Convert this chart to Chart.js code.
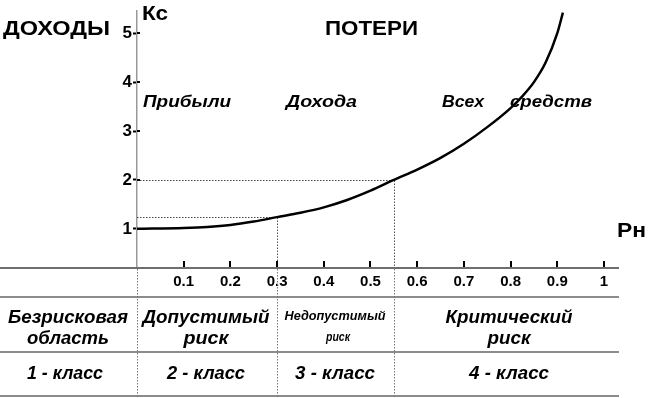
<!DOCTYPE html>
<html>
<head>
<meta charset="utf-8">
<script src="https://cdn.jsdelivr.net/npm/chart.js@4/dist/chart.umd.min.js"></script>
<style>
  html, body { margin: 0; padding: 0; background: #fff; }
  canvas { display: block; }
</style>
</head>
<body>
<canvas id="riskChart" width="648" height="398"></canvas>
<script>
// curve Kc(Pн)
const pnValues = [0, 0.1, 0.15, 0.2, 0.25, 0.3, 0.35, 0.4, 0.45, 0.5, 0.55, 0.6, 0.65, 0.7, 0.75, 0.8, 0.825, 0.85, 0.875, 0.9, 0.912];
const kcValues = [1.0, 1.02, 1.04, 1.08, 1.15, 1.24, 1.33, 1.44, 1.59, 1.78, 2.0, 2.21, 2.45, 2.74, 3.08, 3.47, 3.71, 4.0, 4.4, 5.0, 5.42];

const xTicks = [0.1, 0.2, 0.3, 0.4, 0.5, 0.6, 0.7, 0.8, 0.9, 1];
const xTickLabels = ['0.1', '0.2', '0.3', '0.4', '0.5', '0.6', '0.7', '0.8', '0.9', '1'];
const yTicks = [1, 2, 3, 4, 5];

// dotted guides: zone borders on Pн and matching Kc
const borderPn = [0.3, 0.55];
const borderKc = [1.24, 2];

const zoneTop = ['Прибыли', 'Дохода', 'Всех', 'средств'];
const riskNames = ['Безрисковая', 'Допустимый', 'Недопустимый', 'Критический'];
const riskNames2 = ['область', 'риск', 'риск', 'риск'];
const classNames = ['1 - класс', '2 - класс', '3 - класс', '4 - класс'];

const FONT = "'Liberation Sans', Arial, sans-serif";
Chart.defaults.font.family = FONT;
Chart.defaults.color = '#000';

// text squeezed/stretched to the width seen in the picture
function fitText(ctx, text, x, y, size, width, italic, align) {
  ctx.save();
  ctx.font = (italic ? 'italic ' : '') + 'bold ' + size + 'px ' + FONT;
  ctx.textAlign = align || 'left';
  ctx.textBaseline = 'alphabetic';
  const w = ctx.measureText(text).width;
  ctx.translate(x, y);
  ctx.scale(width / w, 1);
  ctx.fillStyle = '#000';
  ctx.fillText(text, 0, 0);
  ctx.restore();
}

function dotted(ctx, x1, y1, x2, y2, color) {
  ctx.save();
  ctx.strokeStyle = color;
  ctx.lineWidth = 1;
  ctx.setLineDash([1.5, 1.5]);
  ctx.beginPath();
  ctx.moveTo(x1, y1);
  ctx.lineTo(x2, y2);
  ctx.stroke();
  ctx.restore();
}

const riskTable = {
  id: 'riskTable',
  beforeDatasetsDraw(chart) {
    const { ctx, chartArea, scales: { x, y } } = chart;
    const x0 = x.getPixelForValue(0);
    borderPn.forEach((pn, i) => {
      const px = Math.round(x.getPixelForValue(pn)) + 0.5;
      const py = Math.round(y.getPixelForValue(borderKc[i])) + 0.5;
      dotted(ctx, x0, py, px, py, '#444');
      dotted(ctx, px, py, px, chartArea.bottom, '#555');
    });
  },
  afterDraw(chart) {
    const { ctx, chartArea, scales: { x, y } } = chart;
    const axisY = chartArea.bottom;
    const tableRight = chartArea.right + 1;
    const rows = [axisY, 297, 352, 396];

    // table rules
    ctx.save();
    ctx.lineWidth = 2;
    rows.forEach((ry, i) => {
      ctx.strokeStyle = i === 0 ? '#6e6e6e' : '#8c8c8c';
      ctx.beginPath();
      ctx.moveTo(0, ry);
      ctx.lineTo(tableRight, ry);
      ctx.stroke();
    });
    ctx.restore();

    // column borders below the axis
    const cols = [x.getPixelForValue(0)].concat(borderPn.map(v => x.getPixelForValue(v)));
    cols.forEach(cx => {
      const px = Math.round(cx) + 0.5;
      dotted(ctx, px, axisY + 1, px, 397, '#777');
    });

    // tick marks on the Pн axis, pointing up; Kc marks crossing the axis
    ctx.save();
    ctx.strokeStyle = '#000';
    ctx.lineWidth = 2;
    xTicks.forEach(v => {
      const px = Math.round(x.getPixelForValue(v));
      ctx.beginPath();
      ctx.moveTo(px, axisY - 1);
      ctx.lineTo(px, axisY - 7);
      ctx.stroke();
    });
    yTicks.forEach(v => {
      const py = Math.round(y.getPixelForValue(v));
      ctx.beginPath();
      ctx.moveTo(chartArea.left, py);
      ctx.lineTo(chartArea.left + 3, py);
      ctx.stroke();
    });
    ctx.restore();

    // headings
    fitText(ctx, 'ДОХОДЫ', 3, 35, 20, 107, false);
    fitText(ctx, 'Кс', 142, 20, 21, 26, false);
    fitText(ctx, 'ПОТЕРИ', 325, 35, 21, 93, false);
    fitText(ctx, 'Рн', 617, 237, 21, 29, false);

    // zones above the curve
    fitText(ctx, zoneTop[0], 143, 107, 16, 88, true);
    fitText(ctx, zoneTop[1], 286, 107, 16, 71, true);
    fitText(ctx, zoneTop[2], 442, 107, 16, 42, true);
    fitText(ctx, zoneTop[3], 510, 107, 16, 82, true);

    // table text
    const centers = [68, 206, 335, 509];
    const w1 = [120, 127, 101, 127];
    const s1 = [18, 18, 12, 18];
    const b1 = [323, 323, 320, 323];
    const w2 = [82, 45, 24, 43];
    const b2 = [344, 344, 341, 344];
    const w3 = [76, 78, 80, 80];
    riskNames.forEach((t, i) => fitText(ctx, t, centers[i], b1[i], s1[i], w1[i], true, 'center'));
    riskNames2.forEach((t, i) => fitText(ctx, t, centers[i] + (i === 2 ? 3 : 0), b2[i], s1[i], w2[i], true, 'center'));
    classNames.forEach((t, i) => fitText(ctx, t, centers[i] - (i === 0 ? 3 : 0), 379, 19, w3[i], true, 'center'));
  }
};

new Chart(document.getElementById('riskChart'), {
  type: 'scatter',
  data: {
    datasets: [{
      data: pnValues.map((v, i) => ({ x: v, y: kcValues[i] })),
      showLine: true,
      borderColor: '#000',
      borderWidth: 2.5,
      pointRadius: 0,
      cubicInterpolationMode: 'monotone'
    }]
  },
  options: {
    responsive: false,
    animation: false,
    devicePixelRatio: 1,
    layout: { padding: { top: 0, right: 30, bottom: 0, left: 0 } },
    plugins: {
      legend: { display: false },
      tooltip: { enabled: false }
    },
    scales: {
      x: {
        type: 'linear',
        min: 0,
        max: 1.03,
        afterBuildTicks: s => { s.ticks = xTicks.map(v => ({ value: v })); },
        afterFit: s => { s.height = 130; },
        grid: { display: false, drawTicks: false },
        border: { display: false },
        ticks: {
          padding: 5,
          maxRotation: 0,
          autoSkip: false,
          font: { size: 15, weight: 'bold' },
          callback: (v, i) => xTickLabels[i]
        }
      },
      y: {
        type: 'linear',
        min: 0.2,
        max: 5.45,
        afterBuildTicks: s => { s.ticks = yTicks.map(v => ({ value: v })); },
        afterFit: s => { s.width = 137; },
        grid: {
          drawOnChartArea: false,
          tickLength: 4,
          tickWidth: 2,
          tickColor: '#000'
        },
        border: { color: '#999', width: 1.5 },
        ticks: {
          padding: 1,
          font: { size: 17, weight: 'bold' },
          callback: v => String(v)
        }
      }
    }
  },
  plugins: [riskTable]
});
</script>
</body>
</html>
